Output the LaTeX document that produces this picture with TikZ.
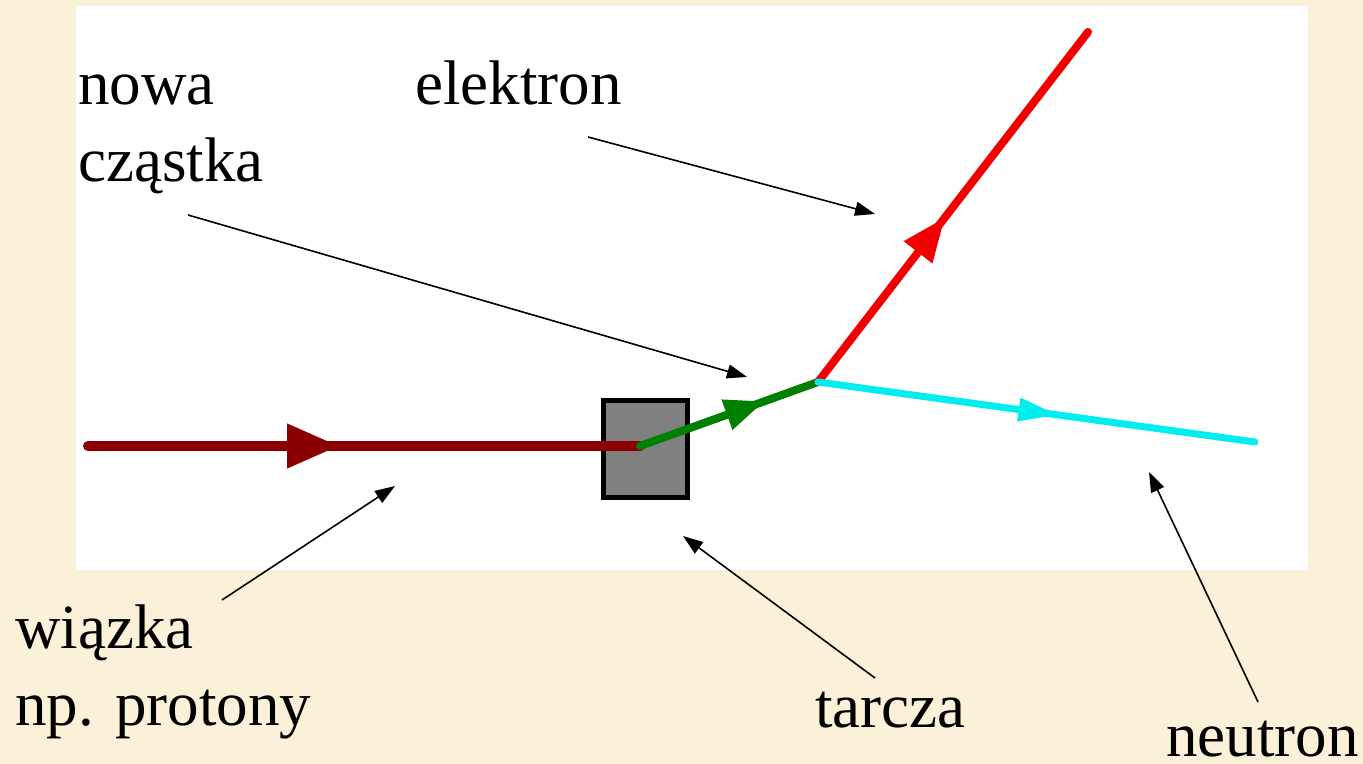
\documentclass[tikz,border=0pt]{standalone}
\usepackage{fontspec}
\setmainfont{Liberation Serif}
\usetikzlibrary{arrows.meta, decorations.markings}

\definecolor{paper}{HTML}{FBF0D8}
\definecolor{beamred}{HTML}{8A0000}
\definecolor{elered}{HTML}{F20000}
\definecolor{newgreen}{HTML}{008000}
\definecolor{neucyan}{HTML}{00EEEE}

\begin{document}
\begin{tikzpicture}[
  x=0.5pt, y=-0.5pt,
  every node/.style={font=\fontsize{31.5}{38.5}\selectfont},
  lbl/.style={inner sep=0pt, align=left, anchor=base west},
  target/.style={draw=black, fill=gray, line width=2.5pt, minimum width=42pt, minimum height=48.5pt, inner sep=0pt},
  trk/.style n args={4}{line width=#1, line cap=round, postaction=decorate,
    decoration={markings, mark=at position #2 with {\arrow{Triangle[length=#3, width=#4]}}}},
  ptr/.style={-{Triangle[length=10pt, width=7pt]}, line width=0.8pt},
]

 % ---- page ----
 \useasboundingbox (0,0) rectangle (1363,764);
 \fill[paper] (0,0) rectangle (1363,764);
 \fill[white] (76,6) rectangle (1308,570);

 % ---- target and tracks ----
 \node[target] (tarcza) at (645.5,449) {};
 \coordinate (src) at (88,446);
 \coordinate (hit) at (640,446);
 \coordinate (vtx) at (818,382);
 \coordinate (eend) at (1088,32);
 \coordinate (nend) at (1255,442);

 \draw[trk={5pt}{0.455}{26pt}{21pt}, beamred] (src) -- (hit);
 \draw[trk={4pt}{0.70}{20pt}{15pt}, newgreen] (hit) -- (vtx);
 \draw[trk={4pt}{0.47}{22pt}{17pt}, elered] (vtx) -- (eend);
 \draw[trk={3.5pt}{0.55}{20pt}{11pt}, neucyan] (vtx) -- (nend);

 % ---- labels (base = last line) ----
 \node[lbl] (nowa) at (78,182) {nowa\\cząstka};
 \node[lbl] (elektron) at (415,105) {elektron};
 \node[lbl] (wiazka) at (15,725) {wiązka\\np. protony};
 \node[lbl] (tarczalbl) at (815,727) {tarcza};
 \node[lbl] (neutron) at (1166,756) {neutron};

 % ---- pointers ----
 \coordinate (p-ele) at (588,137);   \coordinate (t-ele) at (875,214);
 \coordinate (p-new) at (188,215);   \coordinate (t-new) at (747,377);
 \coordinate (p-beam) at (222,600);  \coordinate (t-beam) at (395,486);
 \coordinate (p-tar) at (875,678);   \coordinate (t-tar) at (683,536);
 \coordinate (p-neu) at (1258,702);  \coordinate (t-neu) at (1149,472);

 \draw[ptr] (p-ele) -- (t-ele);
 \draw[ptr] (p-new) -- (t-new);
 \draw[ptr] (p-beam) -- (t-beam);
 \draw[ptr] (p-tar) -- (t-tar);
 \draw[ptr] (p-neu) -- (t-neu);

\end{tikzpicture}
\end{document}
